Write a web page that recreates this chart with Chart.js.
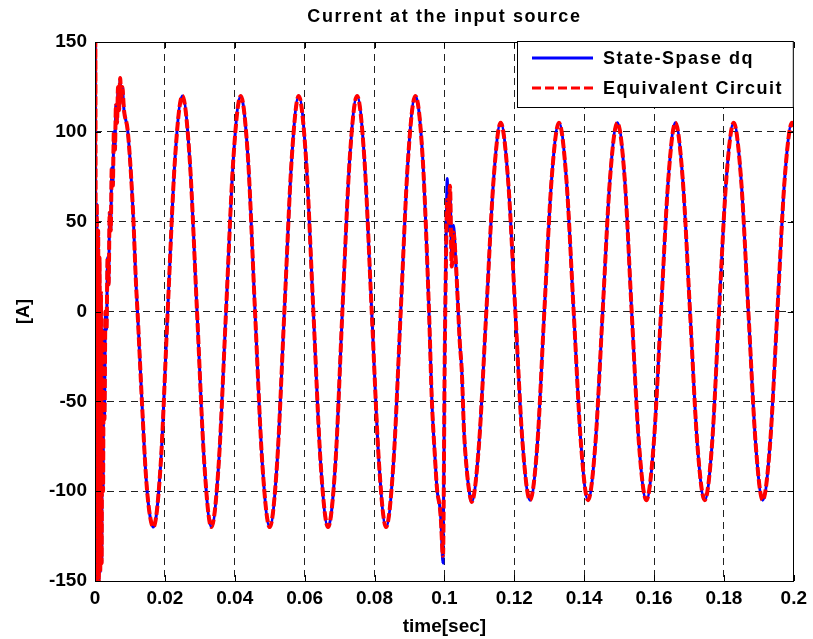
<!DOCTYPE html>
<html>
<head>
<meta charset="utf-8">
<script src="https://cdn.jsdelivr.net/npm/chart.js@4/dist/chart.umd.min.js"></script>
<style>
  html, body { margin: 0; padding: 0; background: #fff; }
  canvas { display: block; }
</style>
</head>
<body>
<canvas id="chart" width="813" height="639"></canvas>
<script>
// --- DATA ---
// start-up transient, both models on top of each other
const transientTime = [0, 0.0001, 0.0003, 0.0005, 0.0007, 0.0009, 0.0011, 0.0013, 0.0015, 0.0017,
  0.0019, 0.0021, 0.0023, 0.0025, 0.0027, 0.0030, 0.0033, 0.0036, 0.0039, 0.0042,
  0.0045, 0.0048, 0.0051, 0.0054, 0.0057, 0.0060, 0.0063, 0.0066, 0.0069, 0.0072,
  0.0075, 0.0078, 0.0083, 0.0094, 0.0109, 0.0117, 0.0123, 0.0134, 0.0146, 0.0156, 0.0167];
const transientCurrent = [0, 150, -150, 60, -150, 45, -150, 30, -145, 10,
  -140, -10, -100, -20, -60, 0, -10, 30, 15, 55,
  45, 80, 70, 100, 90, 115, 105, 125, 112, 130,
  118, 125, 112, 100, 55, 17, -5, -49, -92, -112, -120];

// steady state, ~120 A peak
const steadyTime1 = [0.0188, 0.0208, 0.0229, 0.0250, 0.0271, 0.0292, 0.0313, 0.0333,
  0.0354, 0.0375, 0.0396, 0.0417, 0.0438, 0.0458, 0.0479, 0.0500,
  0.0521, 0.0542, 0.0563, 0.0583, 0.0604, 0.0625, 0.0646, 0.0667,
  0.0688, 0.0708, 0.0729, 0.0750, 0.0771, 0.0792, 0.0813, 0.0833,
  0.0854, 0.0875, 0.0896, 0.0917, 0.0938];
const steadyCurrent1 = [-85, 0, 85, 120, 85, 0, -85, -120,
  -85, 0, 85, 120, 85, 0, -85, -120,
  -85, 0, 85, 120, 85, 0, -85, -120,
  -85, 0, 85, 120, 85, 0, -85, -120,
  -85, 0, 85, 120, 85];

// disturbance at t = 0.1 s
const eventTime = [0.0956, 0.0964, 0.0973, 0.0979, 0.0987, 0.0990, 0.0996, 0.1001, 0.1005, 0.1008,
  0.1012, 0.1016, 0.1021, 0.1026, 0.1032, 0.1044, 0.1050, 0.1056, 0.1064, 0.1071, 0.1078];
const eventDq = [0, -49, -81, -99, -109, -116, -140, -20, 40, 74,
  45, 66, 30, 48, 30, -17, -34, -66, -88, -100, -106];
const eventCircuit = [0, -49, -81, -99, -109, -116, -136, -25, 35, 62,
  50, 70, 25, 44, 30, -17, -34, -66, -88, -100, -106];

// steady state after the change, ~105 A peak
const steadyTime2 = [0.1099, 0.1120, 0.1141, 0.1161, 0.1182, 0.1203, 0.1224, 0.1245,
  0.1266, 0.1286, 0.1307, 0.1328, 0.1349, 0.1370, 0.1391, 0.1411,
  0.1432, 0.1453, 0.1474, 0.1495, 0.1516, 0.1536, 0.1557, 0.1578,
  0.1599, 0.1620, 0.1641, 0.1661, 0.1682, 0.1703, 0.1724, 0.1745,
  0.1766, 0.1786, 0.1807, 0.1828, 0.1849, 0.1870, 0.1891, 0.1911,
  0.1932, 0.1953, 0.1974, 0.1995, 0.2000];
const steadyCurrent2 = [-74, 0, 74, 105, 74, 0, -74, -105,
  -74, 0, 74, 105, 74, 0, -74, -105,
  -74, 0, 74, 105, 74, 0, -74, -105,
  -74, 0, 74, 105, 74, 0, -74, -105,
  -74, 0, 74, 105, 74, 0, -74, -105,
  -74, 0, 74, 105, 103];

const seriesNames = ['State-Spase dq', 'Equivalent Circuit'];
const xTicks = [0, 0.02, 0.04, 0.06, 0.08, 0.1, 0.12, 0.14, 0.16, 0.18, 0.2];
const yTicks = [-150, -100, -50, 0, 50, 100, 150];

const FONT = "'Liberation Sans', Arial, sans-serif";

function toPoints(times, values) {
  const n = Math.min(times.length, values.length);
  const out = [];
  for (let i = 0; i < n; i++) out.push({ x: times[i], y: values[i] });
  return out;
}

const dqPoints = [].concat(
  toPoints(transientTime, transientCurrent),
  toPoints(steadyTime1, steadyCurrent1),
  toPoints(eventTime, eventDq),
  toPoints(steadyTime2, steadyCurrent2));
const circuitPoints = [].concat(
  toPoints(transientTime, transientCurrent),
  toPoints(steadyTime1, steadyCurrent1),
  toPoints(eventTime, eventCircuit),
  toPoints(steadyTime2, steadyCurrent2));

// --- box, inner ticks, title and legend (matlab look) ---
const matlabFrame = {
  id: 'matlabFrame',
  afterDraw(chart) {
    const { ctx, chartArea: a, scales: { x, y } } = chart;
    ctx.save();
    ctx.setLineDash([]);
    ctx.strokeStyle = '#000';
    ctx.lineWidth = 1;

    // ticks pointing inwards on all four sides
    ctx.beginPath();
    xTicks.forEach(v => {
      const px = Math.round(x.getPixelForValue(v)) + 0.5;
      ctx.moveTo(px, a.bottom); ctx.lineTo(px, a.bottom - 6);
      ctx.moveTo(px, a.top); ctx.lineTo(px, a.top + 6);
    });
    yTicks.forEach(v => {
      const py = Math.round(y.getPixelForValue(v)) + 0.5;
      ctx.moveTo(a.left, py); ctx.lineTo(a.left + 6, py);
      ctx.moveTo(a.right, py); ctx.lineTo(a.right - 6, py);
    });
    ctx.stroke();
    ctx.strokeRect(Math.round(a.left) + 0.5, Math.round(a.top) + 0.5,
      Math.round(a.width) - 1, Math.round(a.height));

    // title
    ctx.fillStyle = '#000';
    ctx.font = 'bold 18px ' + FONT;
    ctx.letterSpacing = '1.6px';
    ctx.textAlign = 'center';
    ctx.textBaseline = 'middle';
    ctx.fillText('Current at the input source', (a.left + a.right) / 2, 17);

    // legend box in the upper right corner
    const bx = 517, by = 41, bw = a.right - 517, bh = 66;
    ctx.fillStyle = '#fff';
    ctx.fillRect(bx, by, bw, bh);
    ctx.strokeStyle = '#000';
    ctx.strokeRect(bx + 0.5, by + 0.5, bw - 1, bh);
    const rows = [
      { name: seriesNames[0], color: '#0000ff', dash: [], yy: 58 },
      { name: seriesNames[1], color: '#ff0000', dash: [9, 4], yy: 88 }
    ];
    rows.forEach(r => {
      ctx.beginPath();
      ctx.setLineDash(r.dash);
      ctx.strokeStyle = r.color;
      ctx.lineWidth = 3;
      ctx.moveTo(532, r.yy); ctx.lineTo(593, r.yy);
      ctx.stroke();
      ctx.setLineDash([]);
      ctx.fillStyle = '#000';
      ctx.font = 'bold 18px ' + FONT;
      ctx.letterSpacing = '1.5px';
      ctx.textAlign = 'left';
      ctx.fillText(r.name, 603, r.yy + 1);
    });
    ctx.restore();
  }
};

// --- CHART ---
const chart = new Chart(document.getElementById('chart'), {
  type: 'line',
  data: {
    datasets: [
      {
        label: seriesNames[0], data: dqPoints, order: 2,
        borderColor: '#0000ff', borderWidth: 3,
        pointRadius: 0, cubicInterpolationMode: 'monotone'
      },
      {
        label: seriesNames[1], data: circuitPoints, order: 1,
        borderColor: '#ff0000', borderWidth: 4, borderDash: [9, 3],
        pointRadius: 0, cubicInterpolationMode: 'monotone'
      }
    ]
  },
  options: {
    responsive: false,
    animation: false,
    devicePixelRatio: 1,
    layout: { padding: { top: 42, right: 18, left: 0, bottom: 0 } },
    plugins: { legend: { display: false }, title: { display: false }, tooltip: { enabled: false } },
    scales: {
      x: {
        type: 'linear', min: 0, max: 0.2,
        afterBuildTicks: s => { s.ticks = xTicks.map(v => ({ value: v })); },
        afterFit: s => { s.height = 58; },
        ticks: {
          callback: v => String(+v.toFixed(2)),
          font: { family: FONT, size: 19, weight: 'bold' }, color: '#000',
          padding: 6, maxRotation: 0, autoSkip: false
        },
        grid: { color: '#222', lineWidth: 1, drawTicks: false },
        border: { display: false, dash: [7, 5] },
        title: {
          display: true, text: 'time[sec]', color: '#000',
          font: { family: FONT, size: 19, weight: 'bold' }, padding: { top: 0, bottom: 1 }
        }
      },
      y: {
        min: -150, max: 150,
        afterBuildTicks: s => { s.ticks = yTicks.map(v => ({ value: v })); },
        afterFit: s => { s.width = 95; },
        ticks: {
          callback: v => String(v),
          font: { family: FONT, size: 19, weight: 'bold' }, color: '#000',
          padding: 8
        },
        grid: { color: '#222', lineWidth: 1, drawTicks: false },
        border: { display: false, dash: [7, 5] },
        title: {
          display: true, text: '[A]', color: '#000',
          font: { family: FONT, size: 18, weight: 'bold' }, padding: { top: 13, bottom: 0 }
        }
      }
    }
  },
  plugins: [matlabFrame]
});
</script>
</body>
</html>
